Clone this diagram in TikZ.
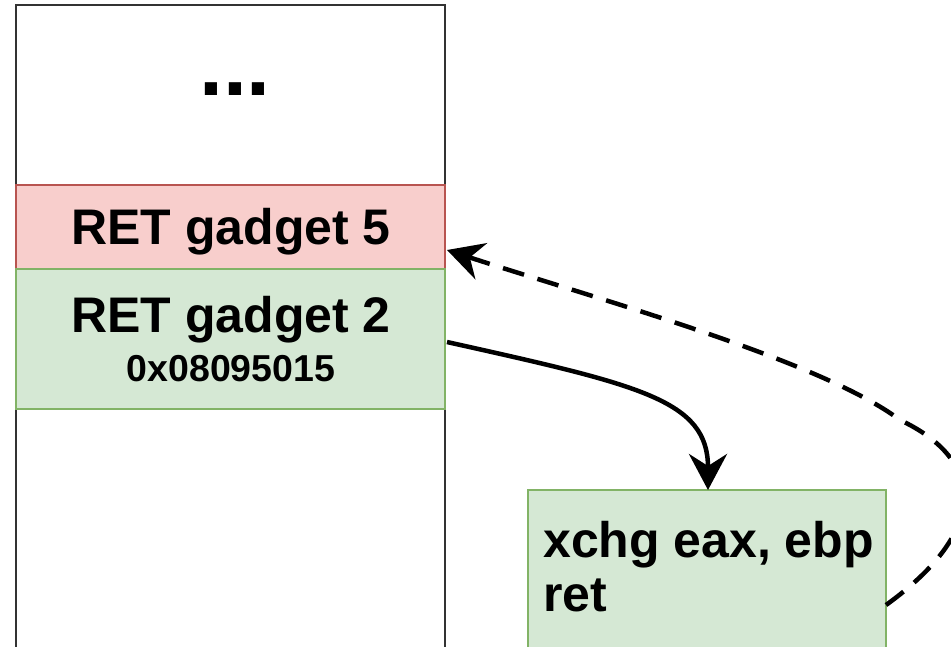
\documentclass[tikz,border=0pt]{standalone}
\usepackage{fontspec}
\setmainfont{Liberation Sans}
\usetikzlibrary{arrows.meta}
\definecolor{redfill}{HTML}{F8CECC}
\definecolor{redline}{HTML}{B85450}
\definecolor{greenfill}{HTML}{D5E8D4}
\definecolor{greenline}{HTML}{82B366}
\definecolor{stackline}{HTML}{333333}
\tikzset{
  cell/.style={draw, line width=2pt, inner sep=0pt, outer sep=0pt},
  bigtxt/.style={font=\bfseries\fontsize{50}{56}\selectfont, inner sep=0pt},
  smalltxt/.style={font=\bfseries\fontsize{37.5}{44}\selectfont, inner sep=0pt},
  conn/.style={line width=4.5pt, -{Stealth[length=36pt,width=38pt,inset=12pt]}},
}
\begin{document}
\begin{tikzpicture}[x=1pt,y=-1pt]
\useasboundingbox (0,0) rectangle (951,646);
\clip (0,0) rectangle (951,646);
% stack
\node[cell, draw=stackline, fill=white, minimum width=429pt, minimum height=690pt, anchor=north west] (stack) at (16,5) {};
\node[cell, draw=redline, fill=redfill, minimum width=429pt, minimum height=84pt, anchor=north west] (g5) at (16,185) {};
\node[cell, draw=greenline, fill=greenfill, minimum width=429pt, minimum height=140pt, anchor=north west] (g2) at (16,269) {};
\node[font=\bfseries\fontsize{86}{90}\selectfont, inner sep=0pt, anchor=base] (dots) at (235,95) {...};
\node[bigtxt, anchor=base] (t5) at (231,244) {RET gadget 5};
\node[bigtxt, anchor=base] (t2) at (231,332) {RET gadget 2};
\node[smalltxt, anchor=base] (addr) at (231,381) {0x08095015};
% gadget box
\node[cell, draw=greenline, fill=greenfill, minimum width=358pt, minimum height=200pt, anchor=north west] (gad) at (528,490) {};
\node[bigtxt, anchor=base west] (l1) at (543,557) {xchg eax, ebp};
\node[bigtxt, anchor=base west] (l2) at (543,611) {ret};
% connectors
\coordinate (s1) at (447,342);
\coordinate (e1) at (708,490);
\draw[conn] (s1) .. controls (640,385) and (708,400) .. (e1);
\coordinate (s2) at (886,605);
\coordinate (m2) at (900,420);
\coordinate (e2) at (447,250);
\draw[conn, dash pattern=on 22pt off 14pt] (s2) .. controls (990,530) and (985,460) .. (m2) .. controls (820,360) and (600,300) .. (e2);
\end{tikzpicture}
\end{document}
